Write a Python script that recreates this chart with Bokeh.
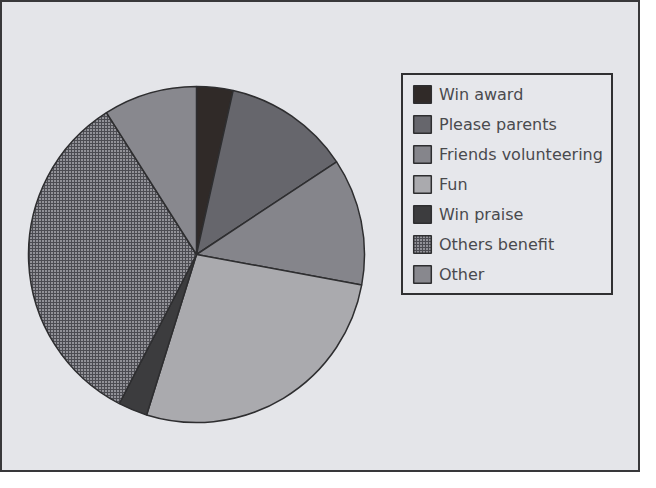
import math
from bokeh.plotting import figure
from bokeh.models import ColumnDataSource, Range1d, Legend, LegendItem
from bokeh.embed import file_html
from bokeh.resources import INLINE

categories = ["Win award", "Please parents", "Friends volunteering", "Fun",
              "Win praise", "Others benefit", "Other"]
values = [3.5, 12.2, 12.2, 26.9, 2.8, 33.4, 9.0]
colors = ["#302a28", "#66666c", "#85858b", "#aaaaae", "#3c3c3e", "#929298", "#88888e"]
hatches = [" ", " ", " ", " ", " ", "cross", " "]

total = sum(values)
starts, ends = [], []
acc = 0.0
for v in values:
    a0 = math.pi / 2 - 2 * math.pi * acc / total
    acc += v
    a1 = math.pi / 2 - 2 * math.pi * acc / total
    starts.append(a0)
    ends.append(a1)

W, H = 640, 472
p = figure(width=W, height=H, output_backend="svg", toolbar_location=None,
           x_range=Range1d(0, W), y_range=Range1d(0, H), min_border=0)
p.axis.visible = False
p.grid.visible = False
p.background_fill_color = "#e4e5e9"
p.border_fill_color = "#e4e5e9"
p.outline_line_color = "#38383a"
p.outline_line_width = 3

cx, cy, R = 196, 218, 168
renderers = []
for i, cat in enumerate(categories):
    src = ColumnDataSource(dict(x=[cx], y=[cy], s=[starts[i]], e=[ends[i]]))
    r = p.wedge(x="x", y="y", radius=R, start_angle="e", end_angle="s",
                source=src, fill_color=colors[i], line_color="#2e2e30",
                line_width=1.5, hatch_pattern=hatches[i], hatch_color="#4c4c52",
                hatch_scale=3, hatch_weight=1)
    renderers.append(r)

legend = Legend(items=[LegendItem(label=c, renderers=[r]) for c, r in zip(categories, renderers)],
                location=(401, 177))
legend.label_text_font = "DejaVu Sans"
legend.label_text_font_size = "16px"
legend.label_text_color = "#4a4a4e"
legend.glyph_width = 22
legend.glyph_height = 22
legend.label_height = 22
legend.spacing = 8
legend.padding = 8
legend.margin = 0
legend.label_standoff = 6
legend.border_line_color = "#303032"
legend.border_line_width = 2
legend.border_line_alpha = 1
legend.background_fill_color = "#e6e7eb"
legend.background_fill_alpha = 1
p.add_layout(legend, "center")

open("out.html", "w").write(file_html(p, INLINE))
